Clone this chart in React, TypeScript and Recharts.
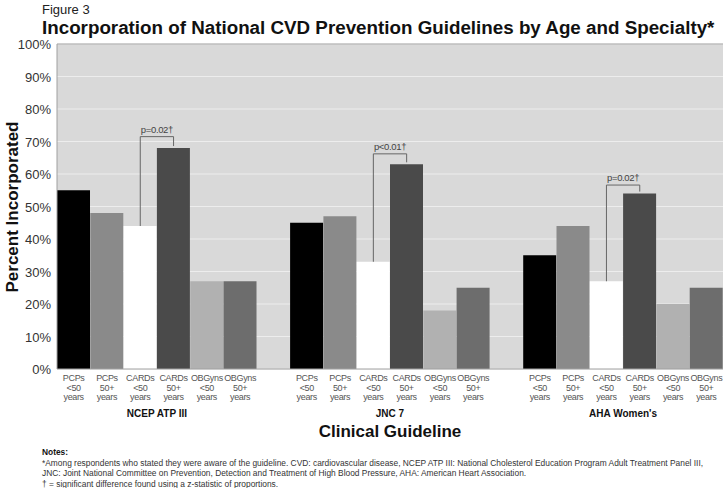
import { Bar, BarChart, CartesianGrid, Cell, ReferenceLine, XAxis, YAxis } from "recharts"

const guidelines = ["NCEP ATP III", "JNC 7", "AHA Women's"]
const specialties = ["PCPs", "PCPs", "CARDs", "CARDs", "OBGyns", "OBGyns"]
const ageGroups = ["<50", "50+", "<50", "50+", "<50", "50+"]
const ncepValues = [55, 48, 44, 68, 27, 27]
const jncValues = [45, 47, 33, 63, 18, 25]
const ahaValues = [35, 44, 27, 54, 20, 25]
const pLabels = ["p=0.02\u2020", "p<0.01\u2020", "p=0.02\u2020"]
const bracketTops = [71.5, 66.2, 56.6]
const yTicks = [0, 10, 20, 30, 40, 50, 60, 70, 80, 90, 100]
const barColors = ["#000000", "#8a8a8a", "#ffffff", "#4a4a4a", "#b1b1b1", "#6d6d6d"]

const groupValues = [ncepValues, jncValues, ahaValues]

type Slot = { key: string; value: number | null; group: number; idx: number }

const slots: Slot[] = []
guidelines.forEach((_, gi) => {
  groupValues[gi].forEach((v, i) => slots.push({ key: `g${gi}-${i}`, value: v, group: gi, idx: i }))
  if (gi < guidelines.length - 1) slots.push({ key: `gap${gi}`, value: null, group: gi, idx: -1 })
})

const FONT = "'Liberation Sans', Arial, Helvetica, sans-serif"

function SmallText({ x, y, children, size = 9, fill = "#555" }: any) {
  return (
    <text x={x} y={y} textAnchor="middle" fontSize={size} fill={fill} fontFamily={FONT} letterSpacing={-0.35}>
      {children}
    </text>
  )
}

function YTick(props: any) {
  const { y, payload } = props
  return (
    <text x={51} y={y} dy={5} textAnchor="end" fontSize={13} fill="#333" fontFamily={FONT}>
      {`${payload.value}%`}
    </text>
  )
}

function XTick(props: any) {
  const { x, y, payload } = props
  const slot = slots.find((s) => s.key === payload.value)
  if (!slot || slot.idx < 0) return null
  const half = payload.offset || 16.65
  return (
    <g>
      <SmallText x={x} y={y + 12}>{specialties[slot.idx]}</SmallText>
      <SmallText x={x} y={y + 21.5}>{ageGroups[slot.idx]}</SmallText>
      <SmallText x={x} y={y + 31}>years</SmallText>
      {slot.idx === 2 && (
        <text x={x + half} y={y + 48} textAnchor="middle" fontSize={10} fontWeight="bold" fill="#111" fontFamily={FONT}>
          {guidelines[slot.group]}
        </text>
      )}
    </g>
  )
}

function BracketLabel(props: any) {
  const vb = props.viewBox || {}
  let cx = 0
  let top = 0
  if (vb.x1 !== undefined) {
    cx = (vb.x1 + vb.x2) / 2
    top = Math.min(vb.y1, vb.y2)
  } else {
    cx = vb.x + (vb.width || 0) / 2
    top = vb.y
  }
  return (
    <SmallText x={cx} y={top - 4} size={9.5} fill="#444">
      {props.text}
    </SmallText>
  )
}

export default function App() {
  return (
    <div style={{ position: "absolute", left: 0, top: 0, width: 723, height: 488, fontFamily: FONT, background: "#fff" }}>
      <div style={{ position: "absolute", left: 42, top: 3, fontSize: 13, lineHeight: "13px", color: "#222" }}>Figure 3</div>
      <div
        style={{
          position: "absolute",
          left: 42,
          top: 18,
          fontSize: 18.8,
          lineHeight: "19px",
          fontWeight: "bold",
          color: "#111",
          whiteSpace: "nowrap",
        }}
      >
        Incorporation of National CVD Prevention Guidelines by Age and Specialty*
      </div>
      <BarChart
        width={723}
        height={488}
        data={slots}
        margin={{ top: 44, right: 0, bottom: 0, left: 0 }}
        barCategoryGap={0}
        barGap={0}
      >
        <CartesianGrid vertical={false} stroke="#ededed" fill="#d9d9d9" />
        <XAxis
          dataKey="key"
          height={119}
          tickLine={false}
          tickSize={0}
          tickMargin={0}
          interval={0}
          axisLine={{ stroke: "#a0a0a0" }}
          tick={<XTick />}
        />
        <YAxis
          width={57}
          domain={[0, 100]}
          ticks={yTicks}
          tickLine={false}
          axisLine={{ stroke: "#a0a0a0" }}
          tick={<YTick />}
        />
        <ReferenceLine y={100} stroke="#a6a6a6" />
        <Bar dataKey="value" isAnimationActive={false}>
          {slots.map((s) => (
            <Cell key={s.key} fill={s.idx >= 0 ? barColors[s.idx] : "none"} />
          ))}
        </Bar>
        {guidelines.map((_, gi) => {
          const left = `g${gi}-2`
          const right = `g${gi}-3`
          const vals = groupValues[gi]
          const top = bracketTops[gi]
          return [
            <ReferenceLine
              key={`bl${gi}`}
              segment={[{ x: left, y: vals[2] }, { x: left, y: top }]}
              stroke="#666"
              ifOverflow="visible"
            />,
            <ReferenceLine
              key={`bt${gi}`}
              segment={[{ x: left, y: top }, { x: right, y: top }]}
              stroke="#666"
              ifOverflow="visible"
              label={<BracketLabel text={pLabels[gi]} />}
            />,
            <ReferenceLine
              key={`br${gi}`}
              segment={[{ x: right, y: top }, { x: right, y: vals[3] + 0.6 }]}
              stroke="#666"
              ifOverflow="visible"
            />,
          ]
        })}
      </BarChart>
      <div
        style={{
          position: "absolute",
          left: 13,
          top: 207,
          transform: "translate(-50%, -50%) rotate(-90deg)",
          fontSize: 17,
          fontWeight: "bold",
          color: "#111",
          whiteSpace: "nowrap",
        }}
      >
        Percent Incorporated
      </div>
      <div
        style={{
          position: "absolute",
          left: 390,
          top: 432,
          transform: "translate(-50%, -50%)",
          fontSize: 17,
          fontWeight: "bold",
          color: "#111",
          whiteSpace: "nowrap",
        }}
      >
        Clinical Guideline
      </div>
      <div style={{ position: "absolute", left: 42, top: 447, fontSize: 8.4, color: "#333", lineHeight: "10.5px", whiteSpace: "nowrap" }}>
        <div style={{ fontWeight: "bold", color: "#111" }}>Notes:</div>
        <div>
          *Among respondents who stated they were aware of the guideline. CVD: cardiovascular disease, NCEP ATP III: National Cholesterol Education Program Adult Treatment Panel III,
        </div>
        <div>JNC: Joint National Committee on Prevention, Detection and Treatment of High Blood Pressure, AHA: American Heart Association.</div>
        <div>{"\u2020 = significant difference found using a z-statistic of proportions."}</div>
      </div>
    </div>
  )
}
